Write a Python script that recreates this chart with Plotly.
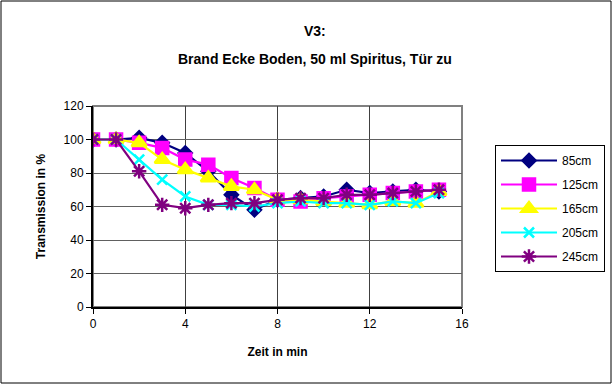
import plotly.graph_objects as go

minutes = list(range(16))
series_names = ['85cm', '125cm', '165cm', '205cm', '245cm']
t_85 = [100, 100, 101, 98, 92, 81, 67, 58, 64, 65, 66, 70, 68, 69, 70, 69]
t_125 = [100, 100, 98, 95, 88, 85, 77, 71, 64, 63, 65, 66, 67, 68, 69, 70]
t_165 = [100, 100, 98, 88, 82, 77, 72, 70, 64, 64, 63, 62, 61, 63, 62, 69]
t_205 = [100, 100, 88, 76, 66, 61, 61, 60, 62, 63, 62, 62, 61, 63, 62, 68]
t_245 = [100, 100, 81, 61, 59, 61, 62, 62, 64, 65, 65, 67, 67, 68, 69, 70]
x_ticks = [0, 4, 8, 12, 16]
y_ticks = [0, 20, 40, 60, 80, 100, 120]

W, H = 614, 385
L, R, T, B = 93, 152, 106, 78
pw, ph = W - L - R, H - T - B
FONT = 'Liberation Sans, Arial, sans-serif'

styles = [
    ('#000080', 'diamond', 10),
    ('#FF00FF', 'square', 12),
    ('#FFFF00', 'triangle-up', 13),
    ('#00FFFF', 'x-thin-open', 10),
    ('#800080', 'asterisk-open', 12),
]

fig = go.Figure()
for name, vals, (col, sym, size) in zip(series_names, [t_85, t_125, t_165, t_205, t_245], styles):
    fig.add_trace(go.Scatter(
        x=minutes, y=vals, name=name, mode='lines+markers', legendgroup=name,
        line=dict(color=col, width=2.2),
        marker=dict(symbol=sym, size=size, color=col, line=dict(color=col, width=2.5))
    ))

# outer chart frame
fig.add_shape(type='rect', xref='paper', yref='paper',
              x0=-(L - 1) / pw, x1=(pw + R - 3) / pw,
              y0=-(B - 2) / ph, y1=(ph + T - 1) / ph,
              line=dict(color='black', width=1))
# plot area frame
fig.add_shape(type='rect', xref='paper', yref='paper', x0=0, x1=1, y0=0, y1=1,
              line=dict(color='#808080', width=2), layer='below')

fig.add_annotation(text='<b>V3:</b>', xref='paper', yref='paper',
                   x=(315 - L) / pw, y=(H - B - 21) / ph, showarrow=False,
                   font=dict(size=14, color='black', family=FONT))
fig.add_annotation(text='<b>Brand Ecke Boden, 50 ml Spiritus, Tür zu</b>', xref='paper', yref='paper',
                   x=(315 - L) / pw, y=(H - B - 49) / ph, showarrow=False,
                   font=dict(size=14, color='black', family=FONT))

fig.update_layout(
    width=W, height=H,
    margin=dict(l=L, r=R, t=T, b=B, autoexpand=False),
    plot_bgcolor='white', paper_bgcolor='white',
    font=dict(family=FONT, size=12, color='black'),
    legend=dict(x=(495 - L) / pw, y=(H - B - 145) / ph, xanchor='left', yanchor='top',
                bordercolor='black', borderwidth=1, bgcolor='white',
                font=dict(size=12, family=FONT), tracegroupgap=5, itemwidth=56),
    xaxis=dict(range=[0, 16], tickvals=x_ticks, showgrid=True, gridcolor='#404040', gridwidth=1,
               showline=True, linecolor='black', linewidth=2, ticks='outside', ticklen=5,
               tickcolor='black', zeroline=False,
               title=dict(text='<b>Zeit in min</b>', font=dict(size=12, family=FONT), standoff=17)),
    yaxis=dict(range=[0, 120], tickvals=y_ticks, showgrid=True, gridcolor='#606060', gridwidth=1,
               showline=True, linecolor='black', linewidth=2, ticks='outside', ticklen=5,
               tickcolor='black', zeroline=False,
               title=dict(text='<b>Transmission in %</b>', font=dict(size=12, family=FONT), standoff=15)),
)

fig.write_html('out.html', config={'displayModeBar': False},
               post_script="document.body.style.margin='0';")
